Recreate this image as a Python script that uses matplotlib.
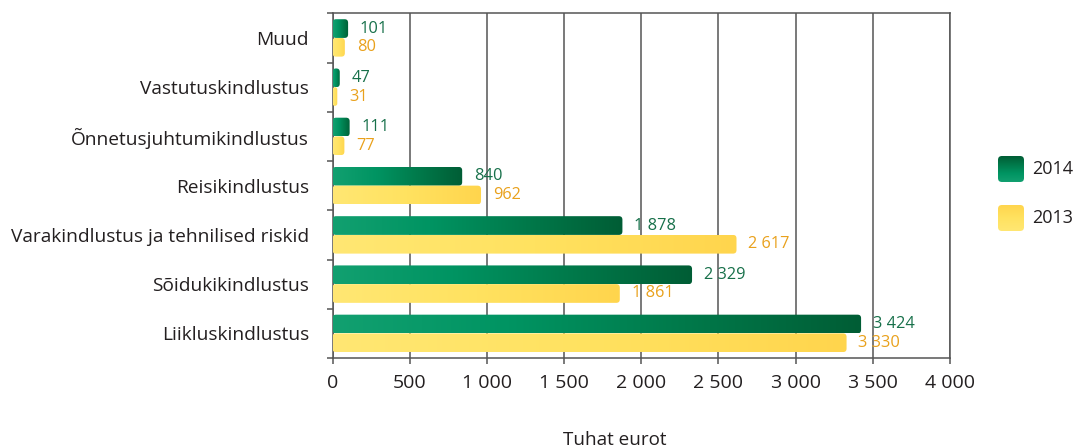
import numpy as np
import matplotlib
matplotlib.use("Agg")
import matplotlib.pyplot as plt
from matplotlib.patches import FancyBboxPatch
from matplotlib.colors import LinearSegmentedColormap

plt.rcParams['font.family'] = ['Open Sans', 'DejaVu Sans']

# --- Datos ---
categorias = ["Muud", "Vastutuskindlustus", "Õnnetusjuhtumikindlustus",
              "Reisikindlustus", "Varakindlustus ja tehnilised riskid",
              "Sõidukikindlustus", "Liikluskindlustus"]
v2014 = [101, 47, 111, 840, 1878, 2329, 3424]
v2013 = [80, 31, 77, 962, 2617, 1861, 3330]
series = ["2014", "2013"]
xticks = [0, 500, 1000, 1500, 2000, 2500, 3000, 3500, 4000]
xlabel = "Tuhat eurot"

# --- Estilo ---
cmap_green = LinearSegmentedColormap.from_list("g", ["#12a070", "#009462", "#00794a", "#005d35"])
cmap_yellow = LinearSegmentedColormap.from_list("y", ["#ffe773", "#ffe260", "#ffd54d"])
col_txt_g = "#17704a"
col_txt_y = "#e9a11c"
grid_col = "#555555"
txt_col = "#231f20"
bar_h = 0.38

W, H = 1079, 448
fig = plt.figure(figsize=(W / 100, H / 100), dpi=100)
ax = fig.add_axes([332.5 / W, 1 - 358 / H, (950 - 332.5) / W, (358 - 13.3) / H])

y = np.arange(len(categorias))
ax.set_xlim(0, 4000)
ax.set_ylim(len(categorias) - 0.5, -0.5)

# escala px -> datos, para las esquinas redondeadas
xs = 4000 / ((950 - 332.5))
ys = len(categorias) / (358 - 13.3)
radio_px = 3.5


def barra_gradiente(rect, cmap):
    x0, y0 = rect.get_x(), rect.get_y()
    w, h = rect.get_width(), rect.get_height()
    if w <= 0:
        return
    r = min(radio_px * xs, w / 2)
    box = FancyBboxPatch((x0, y0), w, h,
                         boxstyle=f"round,pad=0,rounding_size={r}",
                         mutation_aspect=ys / xs,
                         fc="none", ec="none", transform=ax.transData)
    ax.add_patch(box)
    grad = np.linspace(0, 1, 256).reshape(1, -1)
    im = ax.imshow(grad, cmap=cmap, aspect="auto", extent=(x0, x0 + w, y0 + h, y0),
                   interpolation="bicubic", zorder=3)
    im.set_clip_path(box)


bars_g = ax.barh(y - bar_h / 2, v2014, height=bar_h, color="none", zorder=3)
bars_y = ax.barh(y + bar_h / 2, v2013, height=bar_h, color="none", zorder=3)
for b in bars_g:
    barra_gradiente(b, cmap_green)
for b in bars_y:
    barra_gradiente(b, cmap_yellow)

ax.set_xlim(0, 4000)
ax.set_ylim(len(categorias) - 0.5, -0.5)

# --- Etiquetas de valores ---
def fmt(v):
    return f"{v:,}".replace(",", " ")

for b, v in zip(bars_g, v2014):
    ax.annotate(fmt(v), (b.get_width(), b.get_y() + b.get_height() / 2),
                xytext=(8.5, 0), textcoords="offset points", va="center", ha="left",
                fontsize=11.8, color=col_txt_g, zorder=5)
for b, v in zip(bars_y, v2013):
    ax.annotate(fmt(v), (b.get_width(), b.get_y() + b.get_height() / 2),
                xytext=(8.5, 0), textcoords="offset points", va="center", ha="left",
                fontsize=11.8, color=col_txt_y, zorder=5)

# --- Ejes ---
ax.set_xticks(xticks)
ax.set_xticklabels([fmt(t) for t in xticks], fontsize=14, color=txt_col)
ax.set_yticks(y)
ax.set_yticklabels(categorias, fontsize=13.8, color=txt_col)
ax.set_yticks(np.arange(len(categorias) + 1) - 0.5, minor=True)
ax.tick_params(axis="y", which="major", length=0, pad=17)
ax.tick_params(axis="y", which="minor", length=4.5, width=1.1, color=grid_col, direction="out")
ax.tick_params(axis="x", length=4.5, width=1.1, color=grid_col, pad=7)

ax.grid(axis="x", color=grid_col, lw=1.1, zorder=1)
ax.set_axisbelow(True)
for s in ax.spines.values():
    s.set_color(grid_col)
    s.set_linewidth(1.1)

fig.text(615 / W, 1 - 440 / H, xlabel, ha="center", va="center", fontsize=13.6, color=txt_col)

# --- Leyenda ---
leg_items = [(series[0], cmap_green.reversed(), 156), (series[1], cmap_yellow.reversed(), 205)]
for nombre, cm, top in leg_items:
    lax = fig.add_axes([998 / W, 1 - (top + 26) / H, 26 / W, 26 / H])
    lax.axis("off")
    box = FancyBboxPatch((0, 0), 1, 1, boxstyle="round,pad=0,rounding_size=0.15",
                         fc="none", ec="none", transform=lax.transAxes)
    lax.add_patch(box)
    grad = np.linspace(0, 1, 256).reshape(-1, 1)
    im = lax.imshow(grad, cmap=cm, aspect="auto", extent=(0, 1, 0, 1), origin="upper")
    im.set_clip_path(box)
    lax.set_xlim(0, 1)
    lax.set_ylim(0, 1)
    fig.text(1032 / W, 1 - (top + 13) / H, nombre, ha="left", va="center",
             fontsize=13, color=txt_col)

fig.savefig("out.png", dpi=100)
